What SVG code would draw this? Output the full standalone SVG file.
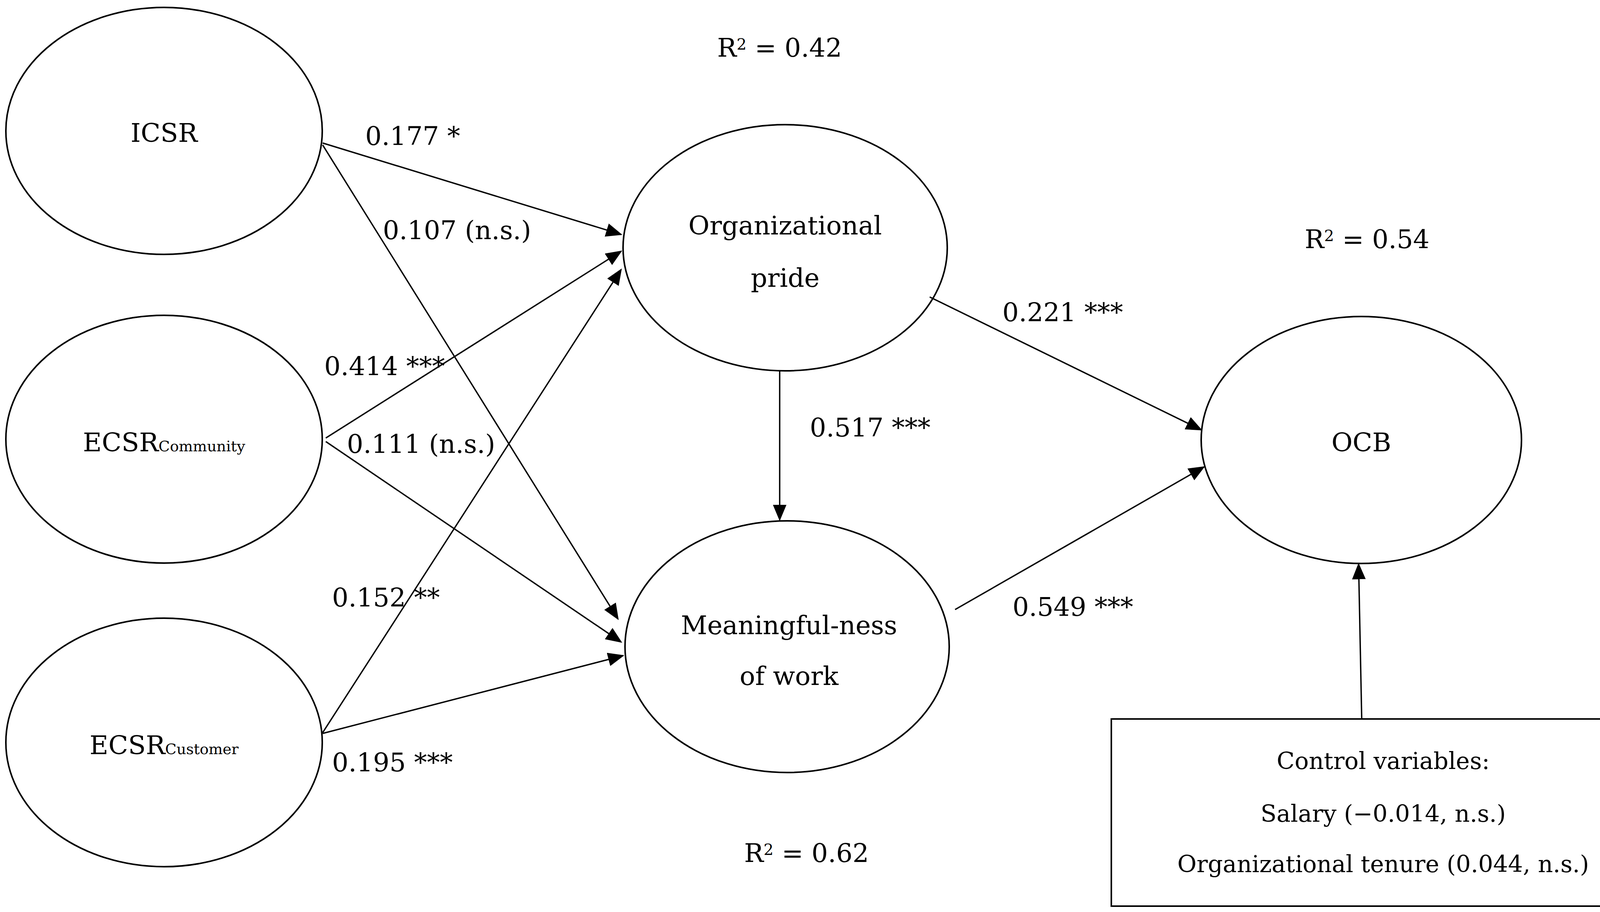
<svg xmlns="http://www.w3.org/2000/svg" width="4253" height="2334" viewBox="0 0 4253 2334">
<style>
text{font-family:"DejaVu Serif","Liberation Serif",serif;font-size:66px;fill:#000}
.n ellipse,.n rect{fill:#fff;stroke:#000;stroke-width:4}
.c line{stroke:#000;stroke-width:3.5;marker-end:url(#a)}
.m{text-anchor:middle}
.b{font-size:60px}
.sub{font-size:38px}
.sup{font-size:40px}
</style>
<defs><marker id="a" markerWidth="12" markerHeight="10" refX="11" refY="5" orient="auto" markerUnits="strokeWidth"><path d="M0,0L12,5L0,10z" fill="#000"/></marker></defs>
<rect width="4253" height="2334" fill="#fff"/>
<g class="n" id="icsr"><ellipse cx="420" cy="335" rx="405" ry="316"/><text class="m" x="420" y="363">ICSR</text></g>
<g class="n" id="ecsrcom"><ellipse cx="420" cy="1124" rx="405" ry="317"/><text class="m" x="420" y="1155">ECSR<tspan class="sub">Community</tspan></text></g>
<g class="n" id="ecsrcust"><ellipse cx="420" cy="1900" rx="405" ry="318"/><text class="m" x="420" y="1930">ECSR<tspan class="sub">Customer</tspan></text></g>
<g class="n" id="pride"><ellipse cx="2010" cy="634" rx="415" ry="315"/><text class="m" x="2010" y="600">Organizational</text><text class="m" x="2010" y="734">pride</text></g>
<g class="n" id="meaning"><ellipse cx="2015" cy="1655" rx="415" ry="322"/><text class="m" x="2020" y="1623">Meaningful-ness</text><text class="m" x="2020" y="1753">of work</text></g>
<g class="n" id="ocb"><ellipse cx="3485" cy="1126" rx="410" ry="316"/><text class="m" x="3485" y="1155">OCB</text></g>
<g class="n" id="control"><rect x="2845" y="1840" width="1393" height="479"/><text class="m b" x="3541" y="1968">Control variables:</text><text class="m b" x="3541" y="2103">Salary (−0.014, n.s.)</text><text class="m b" x="3541" y="2232">Organizational tenure (0.044, n.s.)</text></g>
<g class="c" id="connectors">
<line x1="826" y1="366" x2="1590" y2="600"/>
<line x1="826" y1="371" x2="1582" y2="1584"/>
<line x1="834" y1="1121" x2="1590" y2="643"/>
<line x1="834" y1="1130" x2="1590" y2="1643"/>
<line x1="826" y1="1875" x2="1590" y2="690"/>
<line x1="826" y1="1877" x2="1595" y2="1678"/>
<line x1="1996" y1="949" x2="1996" y2="1330"/>
<line x1="2380" y1="760" x2="3075" y2="1100"/>
<line x1="2445" y1="1560" x2="3082" y2="1195"/>
<line x1="3486" y1="1840" x2="3478" y2="1444"/>
</g>
<g id="labels">
<text x="1836" y="145">R<tspan class="sup" dy="-18">2</tspan><tspan dy="18"> = 0.42</tspan></text>
<text x="1905" y="2206">R<tspan class="sup" dy="-18">2</tspan><tspan dy="18"> = 0.62</tspan></text>
<text x="3340" y="635">R<tspan class="sup" dy="-18">2</tspan><tspan dy="18"> = 0.54</tspan></text>
<text x="935" y="371">0.177 *</text>
<text x="980" y="612">0.107 (n.s.)</text>
<text x="830" y="960">0.414 ***</text>
<text x="888" y="1159">0.111 (n.s.)</text>
<text x="850" y="1552">0.152 **</text>
<text x="850" y="1974">0.195 ***</text>
<text x="2073" y="1117">0.517 ***</text>
<text x="2566" y="822">0.221 ***</text>
<text x="2592" y="1576">0.549 ***</text>
</g>
</svg>
